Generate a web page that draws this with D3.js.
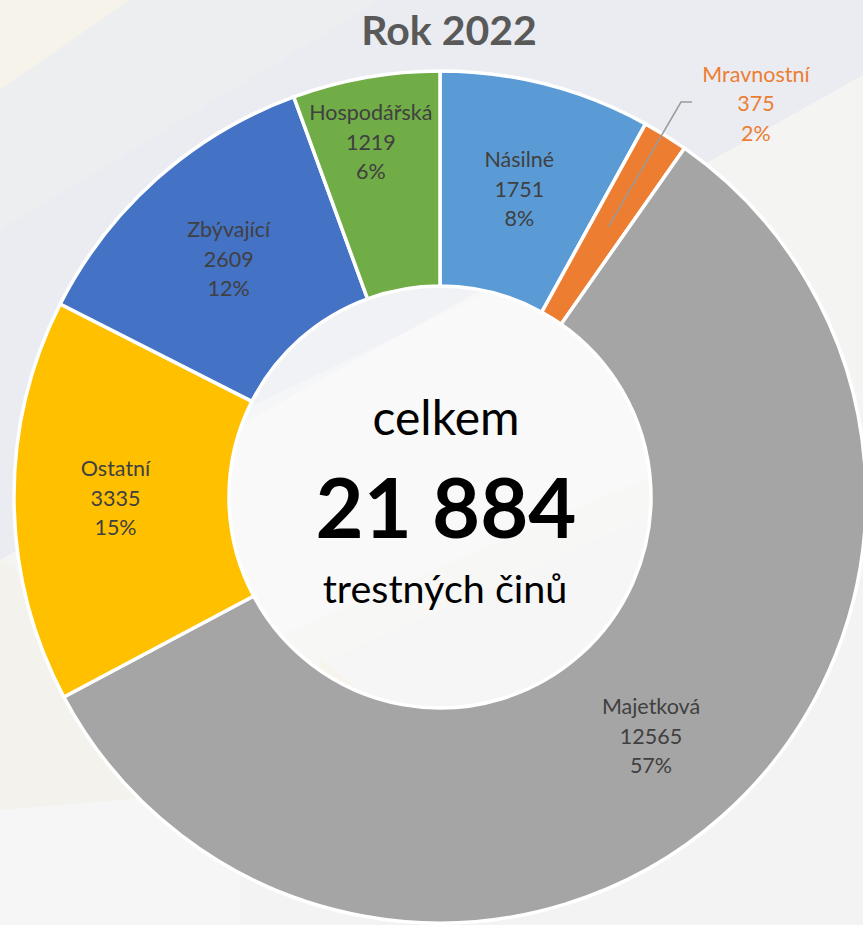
<!DOCTYPE html>
<html>
<head>
<meta charset="utf-8">
<script src="https://cdn.jsdelivr.net/npm/d3@7"></script>
<style>
  html, body { margin: 0; padding: 0; background: #eceef3; }
  svg { display: block; }
</style>
</head>
<body>
<svg id="chart" width="863" height="925"></svg>
<script>
// ---- data ----
const categories = ["Násilné", "Mravnostní", "Majetková", "Ostatní", "Zbývající", "Hospodářská"];
const values     = [1751, 375, 12565, 3335, 2609, 1219];
const percents   = ["8%", "2%", "57%", "15%", "12%", "6%"];
const colors     = ["#5B9BD5", "#ED7D31", "#A5A5A5", "#FFC000", "#4472C4", "#70AD47"];
const titleText  = "Rok 2022";
const centerLines = ["celkem", "21 884", "trestných činů"];

// ---- layout ----
const W = 863, H = 925;
const cx = 440, cy = 497;
const outerR = 426, innerR = 211;
const svg = d3.select("#chart");

// background decoration (faint geometric panels)
const bg = svg.append("g");
bg.append("rect").attr("width", W).attr("height", H).attr("fill", "#eaecf1");
bg.append("polygon").attr("points", "0,0 130,0 0,90").attr("fill", "#f5f3ea");
bg.append("polygon").attr("points", "130,0 380,0 0,230 0,90").attr("fill", "#eef0f0").attr("opacity", 0.6);
bg.append("polygon").attr("points", "0,560 863,75 863,925 0,925").attr("fill", "#f4f4f3");
bg.append("polygon").attr("points", "0,560 240,700 240,925 0,925").attr("fill", "#f3f2ec");
bg.append("polygon").attr("points", "0,810 240,790 240,925 0,925").attr("fill", "#f6f6f6");
bg.append("polygon").attr("points", "240,700 863,420 863,925 240,925").attr("fill", "#f2f2f2").attr("opacity", 0.7);

// title
svg.append("text")
  .attr("x", 449).attr("y", 45)
  .attr("text-anchor", "middle")
  .attr("font-family", "Lato, 'Open Sans', sans-serif")
  .attr("font-weight", 700)
  .attr("font-size", 41)
  .attr("fill", "#595959")
  .text(titleText);

const g = svg.append("g").attr("transform", `translate(${cx},${cy})`);

// inner disc
svg.append("defs").append("clipPath").attr("id", "innerClip")
  .append("circle").attr("r", innerR);
g.append("circle").attr("r", innerR)
  .attr("fill", "#ffffff").attr("fill-opacity", 0.3);
g.append("polygon").attr("points", "-211,-80 60,-211 211,-211 211,-20 -211,160")
  .attr("fill", "#ffffff").attr("opacity", 0.3)
  .attr("clip-path", "url(#innerClip)");
g.append("polygon").attr("points", "-120,160 -60,211 -120,211")
  .attr("fill", "#f6f3e6").attr("opacity", 0.6)
  .attr("clip-path", "url(#innerClip)");

const data = categories.map((c, i) => ({ name: c, value: values[i], pct: percents[i], color: colors[i] }));
const pie = d3.pie().value(d => d.value).sort(null);
const arcs = pie(data);
const arc = d3.arc().innerRadius(innerR).outerRadius(outerR);

g.selectAll("path.slice").data(arcs).enter().append("path")
  .attr("class", "slice")
  .attr("d", arc)
  .attr("fill", d => d.data.color)
  .attr("stroke", "#ffffff")
  .attr("stroke-width", 3.5)
  .attr("stroke-linejoin", "miter");

// labels
const fontFam = "Lato, 'Open Sans', sans-serif";
const lineH = 29.5;
const polar = (a, r) => [Math.sin(a) * r, -Math.cos(a) * r];

arcs.forEach((d, i) => {
  const mid = (d.startAngle + d.endAngle) / 2;
  let pos, color = "#404040";
  const name = d.data.name;
  if (name === "Mravnostní") {
    // outside label with leader line
    const pt = arc.centroid(d);
    const lab = polar(0.676, 505);
    const elbow = [lab[0] - 75, lab[1] - 1];
    const start = [elbow[0] + 11, elbow[1]];
    g.append("polyline")
      .attr("points", [start, elbow, pt].map(p => p.join(",")).join(" "))
      .attr("fill", "none").attr("stroke", "#9a9a9a").attr("stroke-width", 1.5);
    pos = lab; color = "#ED7D31";
  } else if (name === "Hospodářská") {
    pos = polar(mid - 0.017, 362);
  } else {
    pos = arc.centroid(d);
    if (name === "Ostatní") pos = [pos[0] - 6, pos[1] - 2];
  }
  const t = g.append("text")
    .attr("text-anchor", "middle")
    .attr("font-family", fontFam)
    .attr("font-size", 21.5)
    .attr("fill", color);
  [name, String(d.data.value), d.data.pct].forEach((s, k) => {
    t.append("tspan").attr("x", pos[0]).attr("y", pos[1] + (k - 1) * lineH + 8).text(s);
  });
});

// center text
g.append("text").attr("x", 6).attr("y", 435 - cy)
  .attr("text-anchor", "middle").attr("font-family", fontFam)
  .attr("font-size", 48).attr("fill", "#000").text(centerLines[0]);
g.append("text").attr("x", 6).attr("y", 538 - cy)
  .attr("text-anchor", "middle").attr("font-family", fontFam)
  .attr("font-weight", 700)
  .attr("font-size", 83).attr("fill", "#000").text(centerLines[1]);
g.append("text").attr("x", 5).attr("y", 603 - cy)
  .attr("text-anchor", "middle").attr("font-family", fontFam)
  .attr("font-size", 39.5).attr("fill", "#000").text(centerLines[2]);
</script>
</body>
</html>
